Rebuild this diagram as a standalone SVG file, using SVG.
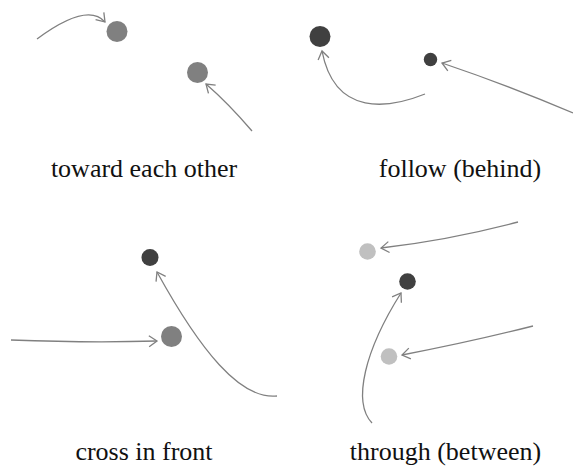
<svg xmlns="http://www.w3.org/2000/svg" width="573" height="468" viewBox="0 0 573 468">
<style>
.c{stroke:none}
.mid{fill:#808080}
.dark{fill:#404040}
.light{fill:#c0c0c0}
.a{fill:none;stroke:#808080;stroke-width:1.3;marker-end:url(#ah)}
.t{font-family:"Liberation Serif","Times New Roman",serif;font-size:26px;fill:#111;text-anchor:middle}
</style>
<defs>
<marker id="ah" markerUnits="userSpaceOnUse" markerWidth="14" markerHeight="14" refX="11" refY="7" orient="auto">
<path d="M3,1.5 L11,7 L3,12.5" fill="none" stroke="#808080" stroke-width="1.3"/>
</marker>
</defs>
<rect width="573" height="468" fill="#fff"/>
<g id="connectors">
<path class="a" d="M37,39 C60,22 90,5 105,22"/>
<path class="a" d="M252,131 Q228,103 206,84"/>
<path class="a" d="M425,94 C390,108 335,118 322,51"/>
<path class="a" d="M573,113 Q510,86 442,63"/>
<path class="a" d="M11,340 Q90,343 157,341"/>
<path class="a" d="M277,396 C240,400 200,350 157,272"/>
<path class="a" d="M518,222 Q450,240 381,248"/>
<path class="a" d="M533,326 Q470,342 402,355"/>
<path class="a" d="M372,423 C352,402 365,350 401,293"/>
</g>
<g id="p1-a"><circle class="c mid" cx="117" cy="31.5" r="10.5"/></g>
<g id="p1-b"><circle class="c mid" cx="197.5" cy="72.5" r="10.5"/></g>
<g id="p2-a"><circle class="c dark" cx="320" cy="36.5" r="10.5"/></g>
<g id="p2-b"><circle class="c dark" cx="430.5" cy="59.5" r="6.7"/></g>
<g id="p3-a"><circle class="c dark" cx="150" cy="257.5" r="8.5"/></g>
<g id="p3-b"><circle class="c mid" cx="171.5" cy="336.5" r="10.5"/></g>
<g id="p4-a"><circle class="c light" cx="367.5" cy="251.5" r="8.3"/></g>
<g id="p4-b"><circle class="c dark" cx="407.5" cy="281.5" r="8.3"/></g>
<g id="p4-c"><circle class="c light" cx="389" cy="356.5" r="8.3"/></g>
<g id="labels">
<text class="t" x="144" y="177">toward each other</text>
<text class="t" x="460" y="177">follow (behind)</text>
<text class="t" x="144" y="460">cross in front</text>
<text class="t" x="445.5" y="460">through (between)</text>
</g>
</svg>
